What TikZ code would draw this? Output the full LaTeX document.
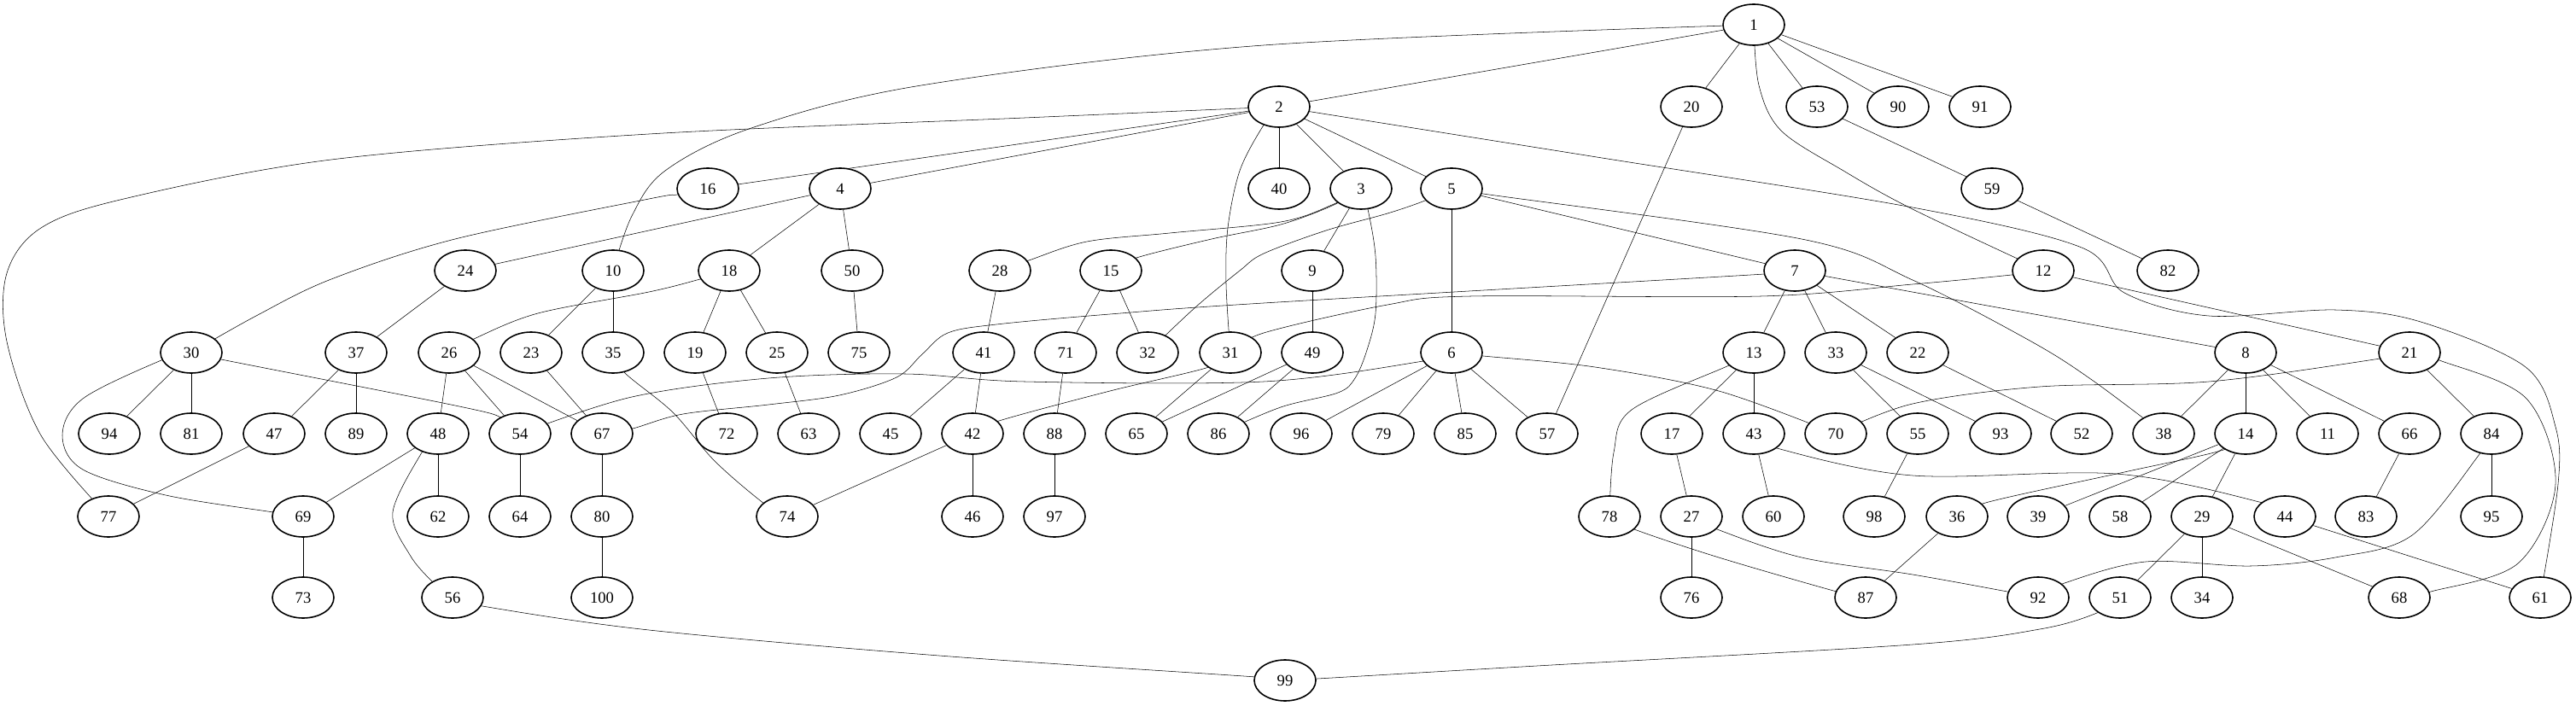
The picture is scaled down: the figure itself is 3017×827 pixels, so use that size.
\documentclass[tikz,border=0pt]{standalone}
\usepackage{fontspec}
\setmainfont{Liberation Serif}
\usetikzlibrary{shapes.geometric,backgrounds}
\begin{document}
\begin{tikzpicture}[x=0.75pt,y=-0.75pt,line width=1.2pt,
  gnode/.style={draw,ellipse,minimum width=54pt,minimum height=36pt,inner sep=0pt,fill=white,font=\fontsize{14}{16}\selectfont},
  curv/.style={smooth,tension=0.55}]
\useasboundingbox (0,0) rectangle (3017,827);
% rank 0
\node[gnode] (n1) at (2054,29) {1};
% rank 1
\foreach \n/\x in {2/1498,20/1981,53/2128,90/2223,91/2319}
  \node[gnode] (n\n) at (\x,125) {\n};
% rank 2
\foreach \n/\x in {16/829,4/984,40/1498,3/1594,5/1700,59/2333}
  \node[gnode] (n\n) at (\x,221) {\n};
% rank 3
\foreach \n/\x in {24/545,10/718,18/854,50/998,28/1171,15/1301,9/1537,7/2102,12/2393,82/2539}
  \node[gnode] (n\n) at (\x,317) {\n};
% rank 4
\foreach \n/\x in {30/224,37/417,26/526,23/622,35/718,19/814,25/910,75/1006,41/1152,71/1248,32/1344,31/1441,49/1537,6/1700,13/2054,33/2150,22/2246,8/2630,21/2822}
  \node[gnode] (n\n) at (\x,413) {\n};
% rank 5
\foreach \n/\x in {94/128,81/224,47/321,89/417,48/513,54/609,67/705,72/851,63/947,45/1043,42/1139,88/1235,65/1331,86/1427,96/1524,79/1620,85/1716,57/1812,17/1958,43/2054,70/2150,55/2246,93/2343,52/2438,38/2534,14/2630,11/2726,66/2822,84/2918}
  \node[gnode] (n\n) at (\x,508) {\n};
% rank 6
\foreach \n/\x in {77/127,69/355,62/513,64/609,80/705,74/922,46/1139,97/1235,78/1885,27/1981,60/2077,98/2195,36/2292,39/2387,58/2483,29/2579,44/2676,83/2771,95/2918}
  \node[gnode] (n\n) at (\x,605) {\n};
% rank 7
\foreach \n/\x in {73/355,56/530,100/705,76/1981,87/2185,92/2387,51/2483,34/2579,68/2810,61/2975}
  \node[gnode] (n\n) at (\x,700) {\n};
% rank 8
\node[gnode] (n99) at (1505,797) {99};

\begin{pgfonlayer}{background}
% straight edges
\foreach \a/\b in {1/2,1/20,1/53,1/90,1/91,2/16,2/4,2/40,2/3,2/5,3/9,4/24,4/18,4/50,5/6,5/7,
  6/96,6/79,6/85,6/57,7/13,7/33,7/22,7/8,8/38,8/14,8/11,8/66,9/49,10/23,10/35,12/21,
  13/17,13/43,14/39,14/58,14/29,15/71,15/32,17/27,18/19,18/25,19/72,20/57,21/84,22/52,23/67,24/37,
  25/63,26/48,26/54,26/67,27/76,28/41,29/51,29/34,29/68,30/94,30/81,31/65,33/55,33/93,36/87,
  37/47,37/89,41/45,41/42,42/74,42/46,43/60,44/61,47/77,48/69,48/62,49/65,49/86,50/75,53/59,
  54/64,55/98,59/82,66/83,67/80,69/73,71/88,80/100,84/95,88/97}
  \draw (n\a) -- (n\b);
% curved edges
\draw plot[curv] coordinates {(n1.center) (1480,53) (1079,100) (880,150) (779,200) (740,253) (n10.center)};
\draw plot[curv] coordinates {(n1.center) (2060,100) (2086,153) (2159,200) (2240,245) (n12.center)};
\draw plot[curv] coordinates {(n2.center) (1200,138) (760,157) (388,187) (145,233) (48,267) (8,320) (8,400) (48,510) (n77.center)};
\draw plot[curv] coordinates {(n2.center) (1479,148) (1452,200) (1438,267) (1436,333) (n31.center)};
\draw plot[curv] coordinates {(n2.center) (1870,184) (2240,243) (2438,290) (2488,343) (2587,370) (2735,363) (2835,377) (2958,430) (2993,500) (2996,567) (n61.center)};
\draw plot[curv] coordinates {(n3.center) (1560,240) (1500,260) (1370,273) (1273,283) (1205,305) (n28.center)};
\draw plot[curv] coordinates {(n3.center) (1560,241) (1500,263) (1419,280) (1331,302) (n15.center)};
\draw plot[curv] coordinates {(n3.center) (1602,245) (1611,300) (1611,367) (1601,410) (1587,443) (1567,460) (1500,477) (n86.center)};
\draw plot[curv] coordinates {(n5.center) (1669,235) (1625,250) (1553,270) (1480,297) (1452,317) (1400,360) (n32.center)};
\draw plot[curv] coordinates {(n5.center) (1737,227) (2110,280) (2240,328) (2379,400) (2450,445) (n38.center)};
\draw plot[curv] coordinates {(n6.center) (1667,423) (1480,447) (1200,447) (1060,438) (900,443) (740,465) (n54.center)};
\draw plot[curv] coordinates {(n6.center) (1737,417) (1868,430) (2013,458) (n70.center)};
\draw plot[curv] coordinates {(n7.center) (2067,321) (1480,355) (1300,368) (1167,380) (1110,390) (1080,415) (1050,442) (983,463) (900,474) (800,485) (741,502) (n67.center)};
\draw plot[curv] coordinates {(n12.center) (2356,322) (2240,333) (2062,347) (1722,347) (1625,357) (1480,390) (n31.center)};
\draw plot[curv] coordinates {(n13.center) (2025,428) (1911,480) (1890,530) (n78.center)};
\draw plot[curv] coordinates {(n14.center) (2604,527) (2488,553) (2329,588) (n36.center)};
\draw plot[curv] coordinates {(n16.center) (793,228) (760,233) (533,280) (388,327) (300,370) (n30.center)};
\draw plot[curv] coordinates {(n18.center) (820,327) (760,342) (630,367) (555,397) (n26.center)};
\draw plot[curv] coordinates {(n21.center) (2788,420) (2587,447) (2389,453) (2240,473) (n70.center)};
\draw plot[curv] coordinates {(n21.center) (2857,422) (2959,467) (2993,567) (2949,660) (2847,693) (n68.center)};
\draw plot[curv] coordinates {(n27.center) (2011,620) (2110,653) (2240,673) (2351,693) (n92.center)};
\draw plot[curv] coordinates {(n30.center) (259,421) (533,475) (589,490) (n54.center)};
\draw plot[curv] coordinates {(n30.center) (189,422) (97,467) (73,510) (97,550) (194,580) (320,600) (n69.center)};
\draw plot[curv] coordinates {(n31.center) (1416,430) (1300,458) (1170,493) (n42.center)};
\draw plot[curv] coordinates {(n35.center) (732,437) (788,483) (837,540) (895,590) (n74.center)};
\draw plot[curv] coordinates {(n43.center) (2081,525) (2240,557) (2478,555) (2646,588) (n44.center)};
\draw plot[curv] coordinates {(n48.center) (494,530) (460,600) (480,650) (507,682) (n56.center)};
\draw plot[curv] coordinates {(n51.center) (2456,718) (2389,737) (2240,755) (1800,780) (1543,795) (n99.center)};
\draw plot[curv] coordinates {(n56.center) (565,710) (760,738) (1100,768) (1471,793) (n99.center)};
\draw plot[curv] coordinates {(n78.center) (1914,620) (2013,653) (2151,693) (n87.center)};
\draw plot[curv] coordinates {(n84.center) (2904,532) (2825,627) (2735,653) (2636,663) (2513,658) (2418,683) (n92.center)};
\end{pgfonlayer}
\end{tikzpicture}
\end{document}
